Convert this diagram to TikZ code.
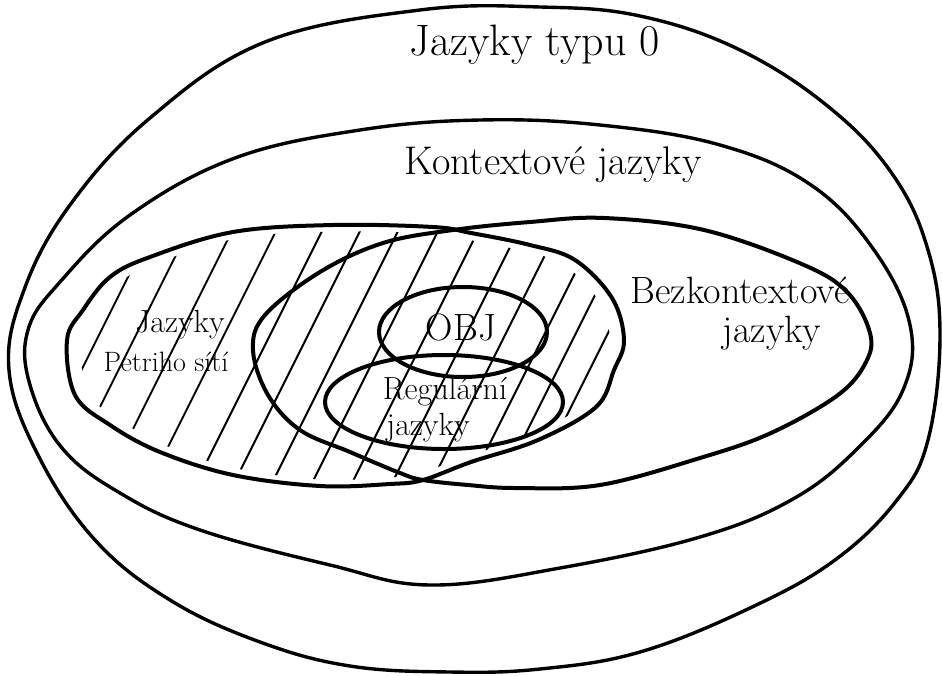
\documentclass[tikz,border=0pt]{standalone}
\usepackage{fontspec}
\begin{document}
\begin{tikzpicture}[x=1pt,y=-1pt,
  thickline/.style={line width=4pt,line join=round},
  outline/.style={line width=3.4pt,line join=round},
  hatchline/.style={line width=2pt,line cap=round},
  lbl/.style={inner sep=0pt,font=\fontsize{#1}{#1}\selectfont},
  lbl/.default=32]
\useasboundingbox (0,0) rectangle (942,675);
\fill[white] (0,0) rectangle (942,675);

% Jazyky typu 0 (outer)
\draw[outline] plot[smooth cycle, tension=0.65] coordinates {
 (420,10) (540,7) (640,16) (740,50) (830,108) (893,175) (928,250)
 (940,335) (928,440) (897,500) (835,560) (750,608) (640,652) (540,669)
 (450,672) (350,666) (260,642) (170,600) (95,540) (38,455) (9,370)
 (24,290) (70,205) (150,118) (265,42)};

% Kontextove jazyky
\draw[outline] plot[smooth cycle, tension=0.65] coordinates {
 (360,130) (480,120) (600,125) (720,145) (811,185) (874,250) (910,325)
 (903,390) (858,448) (793,499) (700,537) (560,568) (430,585) (330,565)
 (200,530) (120,493) (62,448) (30,385) (28,330) (60,282) (130,215) (235,158)};

% hatching of the Petri-net languages
\begin{scope}
 \clip[scale around={0.95:(345,355)}] plot[smooth cycle, tension=0.6] coordinates {
  (67,340) (83,310) (110,277) (150,257) (233,232) (333,225) (433,227)
  (471,233) (530,245) (575,260) (612,298) (624,340) (614,370) (596,407)
  (538,440) (471,462) (423,480) (390,484) (320,486) (233,475) (160,452)
  (110,425) (75,395)};
 \foreach \hx in {89,126,170,214,260,298,336,376,416,456,495,534,565,597}
  \draw[hatchline] (\hx+70,215) -- (\hx-70,495);
\end{scope}

% Jazyky Petriho siti
\draw[thickline] plot[smooth cycle, tension=0.6] coordinates {
 (67,340) (83,310) (110,277) (150,257) (233,232) (333,225) (433,227)
 (471,233) (530,245) (575,260) (612,298) (624,340) (614,370) (596,407)
 (538,440) (471,462) (423,480) (390,484) (320,486) (233,475) (160,452)
 (110,425) (75,395)};

% Bezkontextove jazyky
\draw[thickline] plot[smooth cycle, tension=0.6] coordinates {
 (253,350) (265,315) (320,272) (383,243) (453,230) (530,222) (604,218)
 (704,230) (804,265) (848,293) (870,333) (866,362) (838,395) (771,433)
 (700,458) (600,485) (516,488) (468,485) (423,480) (400,473) (350,452)
 (300,430) (268,395)};

% OBJ
\draw[thickline] (463,332) ellipse [x radius=84, y radius=45];
% Regularni jazyky
\draw[thickline] (444,402) ellipse [x radius=119, y radius=47];

% labels
\node[lbl=44] (t0) at (535,45) {Jazyky typu 0};
\node[lbl=40] (ctx) at (553,165) {Kontextové jazyky};
\node[lbl=38] (cf1) at (740,290) {Bezkontextové};
\node[lbl=38] (cf2) at (772,333) {jazyky};
\node[lbl=32] (pn1) at (180,325) {Jazyky};
\node[lbl=28] (pn2) at (166,362) {Petriho sítí};
\node[lbl=38] (obj) at (461,328) {OBJ};
\node[lbl=32] (reg1) at (445,392) {Regulární};
\node[lbl=32] (reg2) at (428,428) {jazyky};
\end{tikzpicture}
\end{document}
